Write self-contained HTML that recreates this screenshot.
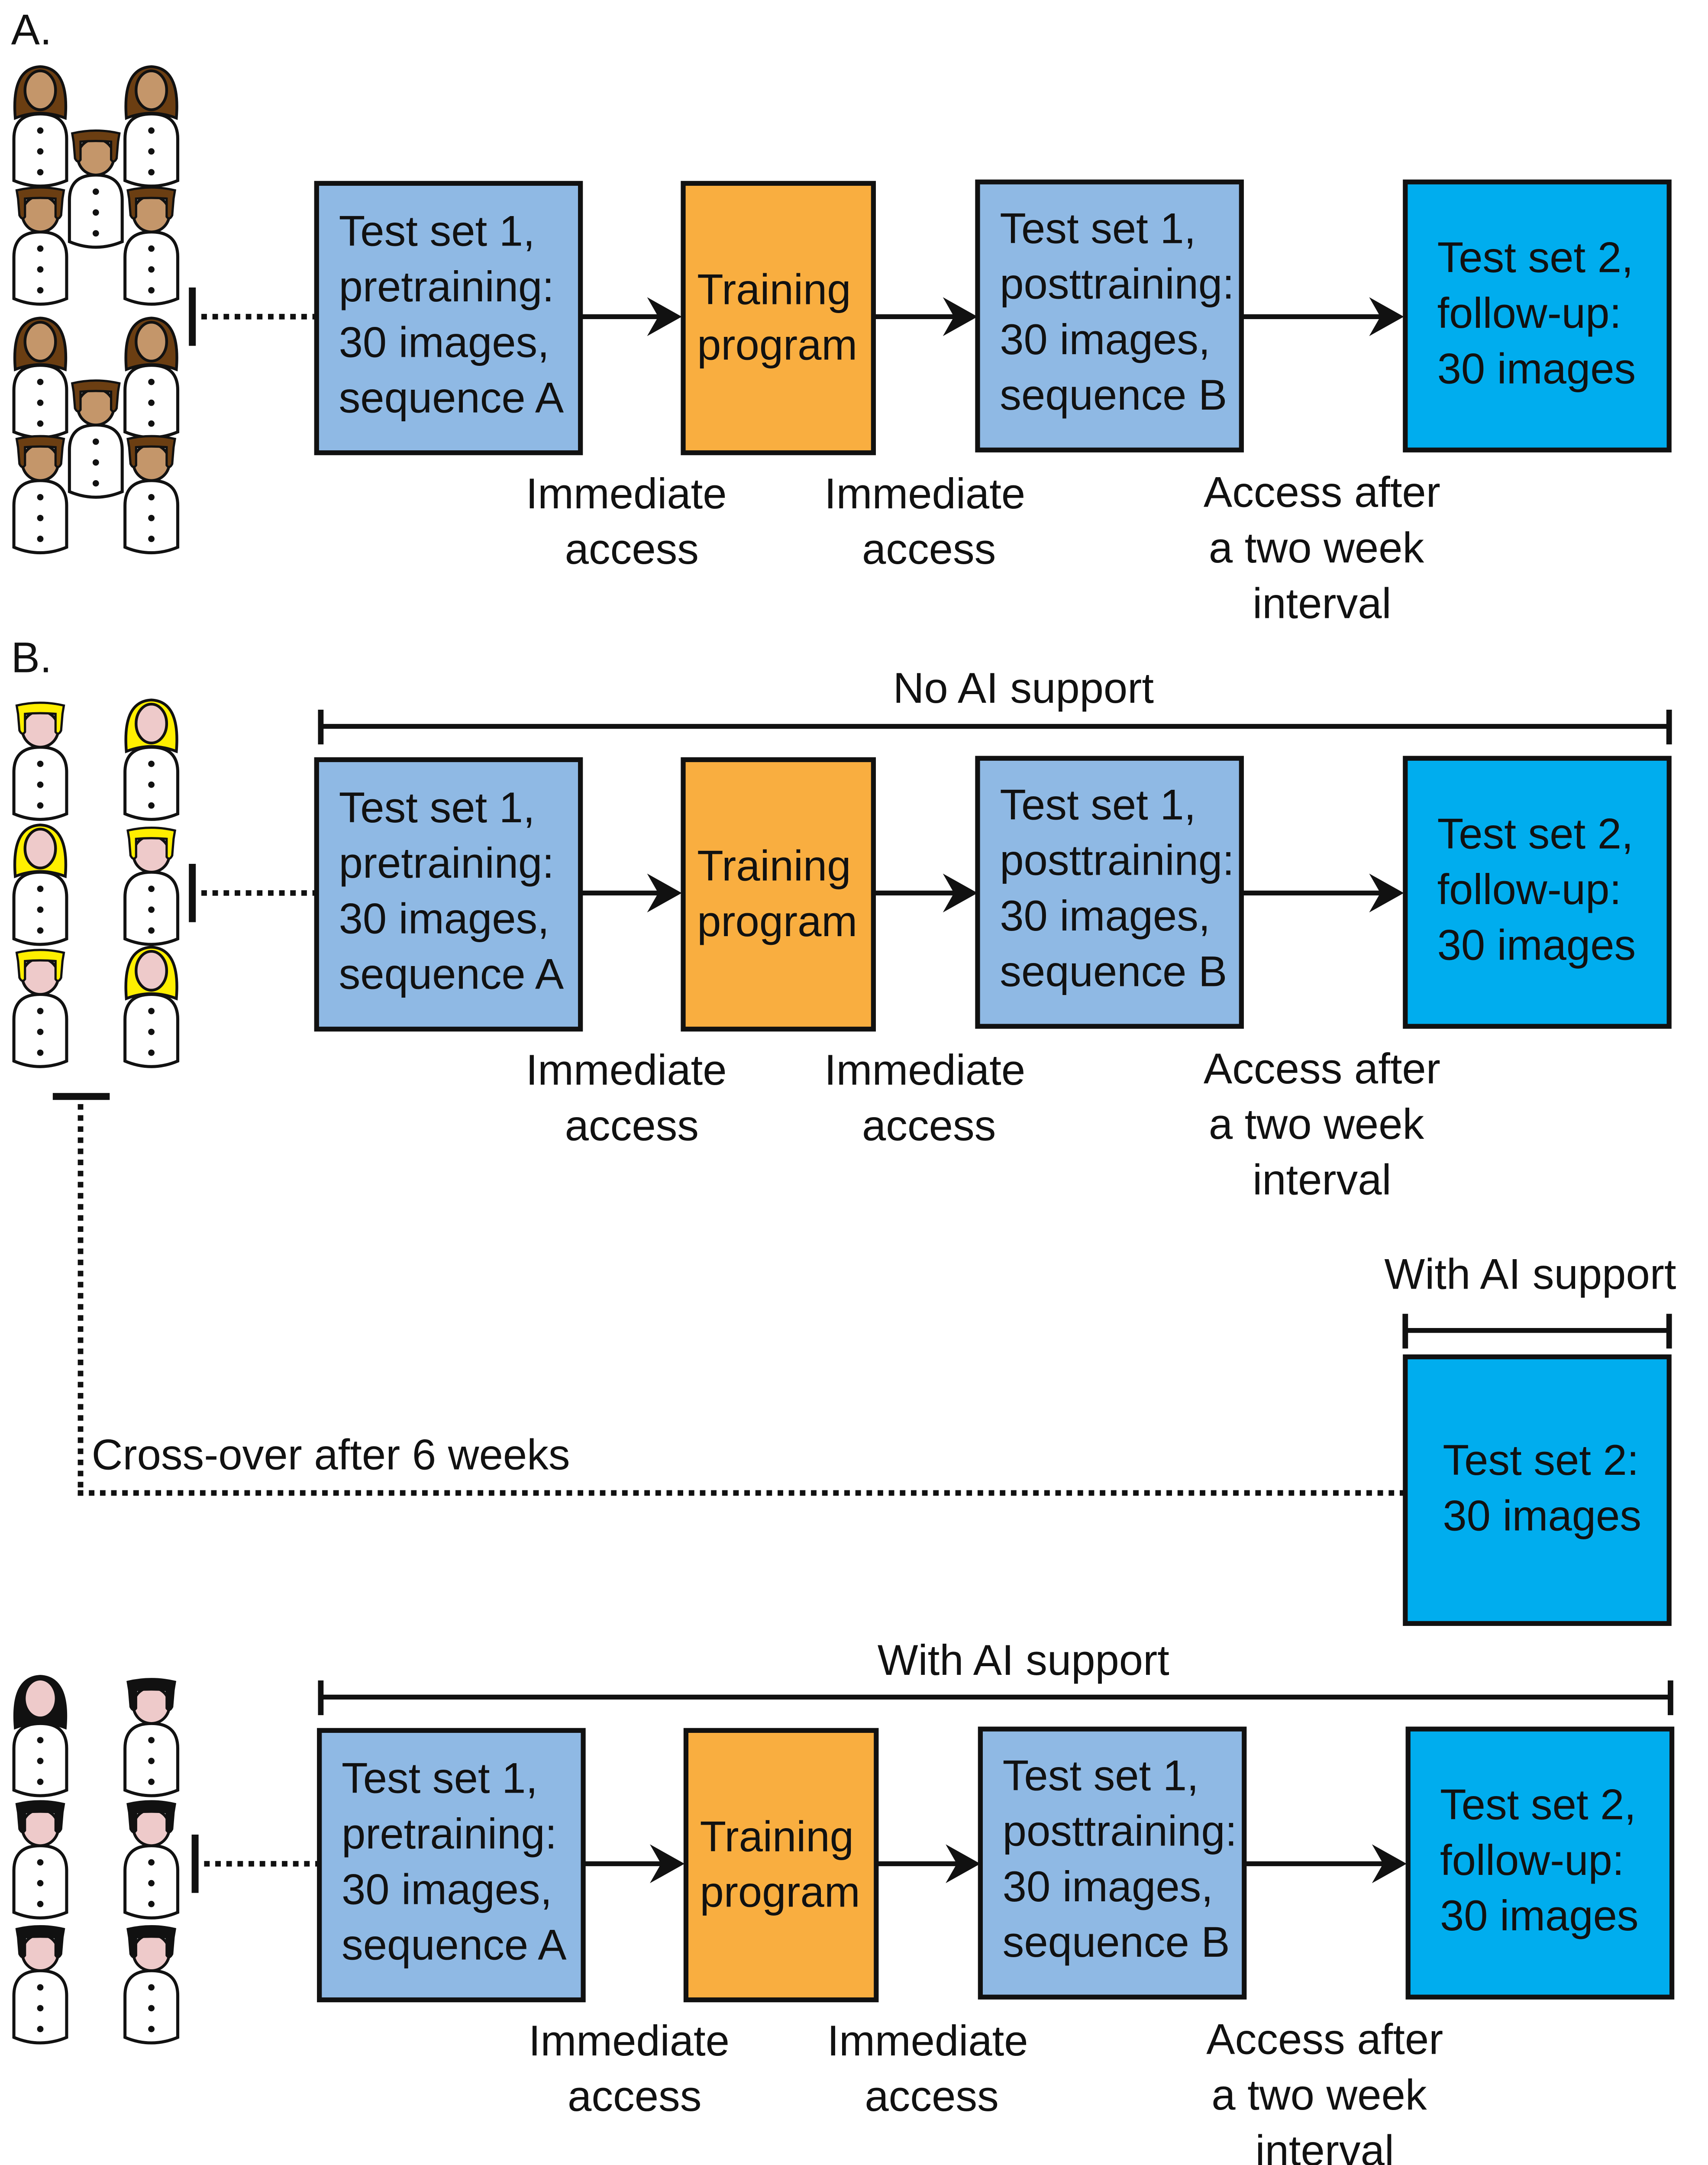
<!DOCTYPE html>
<html><head><meta charset="utf-8"><style>
html,body{margin:0;padding:0;background:#fff;width:3945px;height:5034px;overflow:hidden;}
svg{display:block;}
text{font-family:"Liberation Sans",Arial,sans-serif;font-size:31px;fill:#111;}
</style></head><body>
<svg width="3945" height="5034" viewBox="0 0 1230 1569.5" xmlns="http://www.w3.org/2000/svg">
<defs>
<g id="body">
<path d="M-19,48 L-19,18 Q-19,0 0,0 Q19,0 19,18 L19,48 Q0,56 -19,48Z" fill="#fff" stroke="#111" stroke-width="2.2"/>
<circle cx="0" cy="12" r="2.3" fill="#111"/><circle cx="0" cy="27" r="2.3" fill="#111"/><circle cx="0" cy="42" r="2.3" fill="#111"/>
</g>
<g id="fA"><use href="#body"/>
<path d="M-18,3 Q-21,-33 0,-34 Q21,-33 18,3 Q0,-4 -18,3Z" fill="#6b3e12" stroke="#111" stroke-width="2"/>
<ellipse cx="0" cy="-17" rx="11" ry="14" fill="#c4966a" stroke="#111" stroke-width="2"/></g>
<g id="mA"><use href="#body"/>
<circle cx="0" cy="-13" r="13" fill="#c4966a" stroke="#111" stroke-width="2"/>
<path d="M-17,-30 Q0,-34 17,-30 L16,-24 L15,-12 Q13,-8 11,-11 L11,-24 Q0,-25 -11,-24 L-11,-11 Q-13,-8 -15,-12 L-16,-24Z" fill="#6b3e12" stroke="#111" stroke-width="1.6"/></g>
<g id="fY"><use href="#body"/>
<path d="M-18,3 Q-21,-33 0,-34 Q21,-33 18,3 Q0,-4 -18,3Z" fill="#ffef00" stroke="#111" stroke-width="2"/>
<ellipse cx="0" cy="-17" rx="11" ry="14" fill="#eecaca" stroke="#111" stroke-width="2"/></g>
<g id="mY"><use href="#body"/>
<circle cx="0" cy="-13" r="13" fill="#eecaca" stroke="#111" stroke-width="2"/>
<path d="M-17,-30 Q0,-34 17,-30 L16,-24 L15,-12 Q13,-8 11,-11 L11,-24 Q0,-25 -11,-24 L-11,-11 Q-13,-8 -15,-12 L-16,-24Z" fill="#ffef00" stroke="#111" stroke-width="1.6"/></g>
<g id="fK"><use href="#body"/>
<path d="M-18,3 Q-21,-33 0,-34 Q21,-33 18,3 Q0,-4 -18,3Z" fill="#111" stroke="#111" stroke-width="2"/>
<ellipse cx="0" cy="-18" rx="10.5" ry="13" fill="#eecaca"/></g>
<g id="mK"><use href="#body"/>
<circle cx="0" cy="-13" r="13" fill="#eecaca" stroke="#111" stroke-width="2"/>
<path d="M-17,-30 Q0,-34 17,-30 L16,-24 L15,-12 Q13,-8 11,-11 L11,-24 Q0,-25 -11,-24 L-11,-11 Q-13,-8 -15,-12 L-16,-24Z" fill="#111" stroke="#111" stroke-width="1.6"/></g>
<g id="arrow"><path d="M0,0 L-25,-14 L-17,0 L-25,14Z" fill="#111"/></g>

<g id="row">
<rect x="228" y="132" width="190" height="194" fill="#8fb9e4" stroke="#111" stroke-width="3.5"/>
<rect x="492" y="132" width="137" height="194" fill="#f9ae40" stroke="#111" stroke-width="3.5"/>
<rect x="704" y="131" width="190" height="193" fill="#8fb9e4" stroke="#111" stroke-width="3.5"/>
<rect x="1012" y="131" width="190" height="193" fill="#00adee" stroke="#111" stroke-width="3.5"/>
<line x1="418" y1="228" x2="475" y2="228" stroke="#111" stroke-width="3.5"/><use href="#arrow" x="491" y="228"/>
<line x1="629" y1="228" x2="688" y2="228" stroke="#111" stroke-width="3.5"/><use href="#arrow" x="704" y="228"/>
<line x1="894" y1="228" x2="995" y2="228" stroke="#111" stroke-width="3.5"/><use href="#arrow" x="1011" y="228"/>
<rect x="136" y="207" width="5" height="42" fill="#111"/>
<line x1="145" y1="228" x2="228" y2="228" stroke="#111" stroke-width="4" stroke-dasharray="4,4"/>
<text x="244" y="177">Test set 1,</text>
<text x="244" y="217">pretraining:</text>
<text x="244" y="257">30 images,</text>
<text x="244" y="297">sequence A</text>
<text x="502" y="219">Training</text>
<text x="502" y="259">program</text>
<text x="720" y="175">Test set 1,</text>
<text x="720" y="215">posttraining:</text>
<text x="720" y="255">30 images,</text>
<text x="720" y="295">sequence B</text>
<text x="1035" y="196">Test set 2,</text>
<text x="1035" y="236">follow-up:</text>
<text x="1035" y="276">30 images</text>
<text x="451" y="366" text-anchor="middle">Immediate</text>
<text x="455" y="406" text-anchor="middle">access</text>
<text x="666" y="366" text-anchor="middle">Immediate</text>
<text x="669" y="406" text-anchor="middle">access</text>
<text x="952" y="365" text-anchor="middle">Access after</text>
<text x="948" y="405" text-anchor="middle">a two week</text>
<text x="952" y="445" text-anchor="middle">interval</text>
</g>
</defs>

<text x="8" y="32">A.</text>
<text x="8" y="484">B.</text>

<use href="#fA" x="29" y="82"/><use href="#fA" x="109" y="82"/>
<use href="#mA" x="69" y="126"/>
<use href="#mA" x="29" y="167"/><use href="#mA" x="109" y="167"/>
<use href="#fA" x="29" y="263"/><use href="#fA" x="109" y="263"/>
<use href="#mA" x="69" y="306"/>
<use href="#mA" x="29" y="346"/><use href="#mA" x="109" y="346"/>

<use href="#row"/>

<use href="#mY" x="29" y="538"/><use href="#fY" x="109" y="538"/>
<use href="#fY" x="29" y="628"/><use href="#mY" x="109" y="628"/>
<use href="#mY" x="29" y="716"/><use href="#fY" x="109" y="716"/>

<text x="737" y="506" text-anchor="middle">No AI support</text>
<line x1="231" y1="523" x2="1202" y2="523" stroke="#111" stroke-width="3.5"/>
<rect x="229" y="511" width="4" height="25" fill="#111"/><rect x="1200" y="511" width="4" height="25" fill="#111"/>
<use href="#row" y="415"/>

<rect x="38" y="787" width="41" height="5" fill="#111"/>
<line x1="58" y1="795" x2="58" y2="1077" stroke="#111" stroke-width="4" stroke-dasharray="4,4"/>
<line x1="56" y1="1075" x2="1012" y2="1075" stroke="#111" stroke-width="4" stroke-dasharray="4,4"/>
<text x="66" y="1058">Cross-over after 6 weeks</text>
<text x="1102" y="928" text-anchor="middle">With AI support</text>
<line x1="1012" y1="958" x2="1202" y2="958" stroke="#111" stroke-width="3.5"/>
<rect x="1010" y="946" width="4" height="25" fill="#111"/><rect x="1200" y="946" width="4" height="25" fill="#111"/>
<rect x="1012" y="977" width="190" height="192" fill="#00adee" stroke="#111" stroke-width="3.5"/>
<text x="1039" y="1062">Test set 2:</text>
<text x="1039" y="1102">30 images</text>

<use href="#fK" x="29" y="1241"/><use href="#mK" x="109" y="1241"/>
<use href="#mK" x="29" y="1329"/><use href="#mK" x="109" y="1329"/>
<use href="#mK" x="29" y="1419"/><use href="#mK" x="109" y="1419"/>
<text x="737" y="1206" text-anchor="middle">With AI support</text>
<line x1="231" y1="1222" x2="1203" y2="1222" stroke="#111" stroke-width="3.5"/>
<rect x="229" y="1210" width="4" height="25" fill="#111"/><rect x="1201" y="1210" width="4" height="25" fill="#111"/>
<use href="#row" x="2" y="1114"/>
</svg>
</body></html>
